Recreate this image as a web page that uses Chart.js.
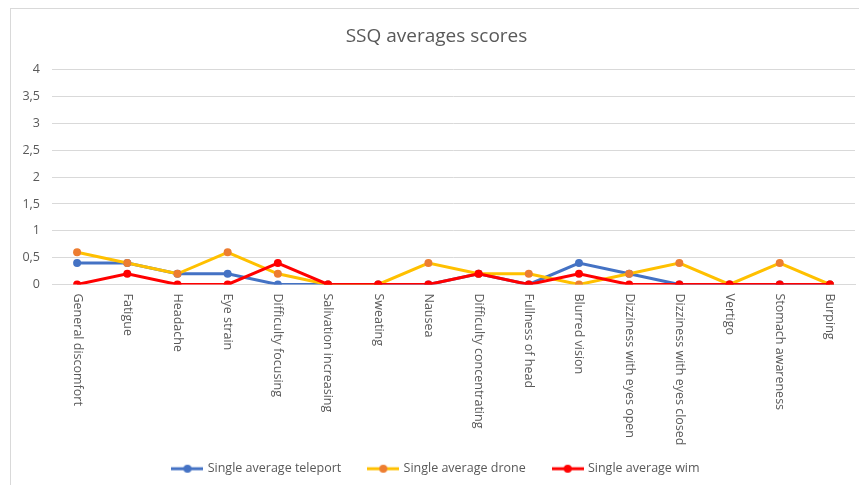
<!DOCTYPE html>
<html>
<head>
<meta charset="utf-8">
<script src="https://cdn.jsdelivr.net/npm/chart.js@4/dist/chart.umd.min.js"></script>
<style>
  html, body { margin: 0; padding: 0; background: #fff; }
  #wrap { width: 859px; height: 485px; }
</style>
</head>
<body>
<div id="wrap"><canvas id="chart"></canvas></div>
<script>
const categories = [
  'General discomfort', 'Fatigue', 'Headache', 'Eye strain', 'Difficulty focusing',
  'Salivation increasing', 'Sweating', 'Nausea', 'Difficulty concentrating',
  'Fullness of head', 'Blurred vision', 'Dizziness with eyes open',
  'Dizziness with eyes closed', 'Vertigo', 'Stomach awareness', 'Burping'
]
const teleport = [0.4, 0.4, 0.2, 0.2, 0, 0, 0, 0, 0.2, 0, 0.4, 0.2, 0, 0, 0, 0]
const drone = [0.6, 0.4, 0.2, 0.6, 0.2, 0, 0, 0.4, 0.2, 0.2, 0, 0.2, 0.4, 0, 0.4, 0]
const wim = [0, 0.2, 0, 0, 0.4, 0, 0, 0, 0.2, 0, 0.2, 0, 0, 0, 0, 0]
const yTicks = ['0', '0,5', '1', '1,5', '2', '2,5', '3', '3,5', '4']

const FONT = '"Open Sans", sans-serif'
const TEXT = '#595959'
const GRID = '#D9D9D9'

function legendIcon(line, dot) {
  const c = document.createElement('canvas')
  c.width = 32
  c.height = 10
  const g = c.getContext('2d')
  g.strokeStyle = line
  g.lineWidth = 3
  g.beginPath()
  g.moveTo(0, 5)
  g.lineTo(32, 5)
  g.stroke()
  g.fillStyle = dot
  g.beginPath()
  g.arc(16, 5, 4, 0, Math.PI * 2)
  g.fill()
  return c
}

function series(label, data, line, dot, order) {
  return {
    label, data, order,
    borderColor: line,
    backgroundColor: dot,
    pointBackgroundColor: dot,
    pointBorderWidth: 0,
    pointRadius: 4,
    borderWidth: 3,
    tension: 0
  }
}

// frame + rotated category labels (top to bottom, like Excel)
const frame = {
  id: 'frame',
  beforeDraw(chart) {
    const ctx = chart.ctx
    ctx.save()
    ctx.fillStyle = '#fff'
    ctx.fillRect(0, 0, chart.width, chart.height)
    ctx.strokeStyle = GRID
    ctx.lineWidth = 1
    ctx.strokeRect(10.5, 8.5, 1000, 1000)
    ctx.restore()
  },
  afterDraw(chart) {
    const ctx = chart.ctx
    const xs = chart.scales.x
    ctx.save()
    ctx.font = '12.5px ' + FONT
    ctx.fillStyle = TEXT
    ctx.textAlign = 'left'
    ctx.textBaseline = 'middle'
    categories.forEach((name, i) => {
      ctx.save()
      ctx.translate(xs.getPixelForTick(i), chart.chartArea.bottom + 9)
      ctx.rotate(Math.PI / 2)
      ctx.fillText(name, 0, 0)
      ctx.restore()
    })
    ctx.restore()
  }
}

new Chart(document.getElementById('chart'), {
  type: 'line',
  data: {
    labels: categories,
    datasets: [
      series('Single average teleport', teleport, '#4472C4', '#4472C4', 3),
      series('Single average drone', drone, '#FFC000', '#ED7D31', 2),
      series('Single average wim', wim, '#FF0000', '#FF0000', 1)
    ]
  },
  plugins: [frame],
  options: {
    responsive: true,
    maintainAspectRatio: false,
    animation: false,
    layout: { padding: { left: 18, right: 4, top: 0, bottom: 0 } },
    plugins: {
      title: {
        display: true,
        text: 'SSQ averages scores',
        color: TEXT,
        font: { family: FONT, size: 19, weight: 'normal' },
        padding: { top: 25, bottom: 22 }
      },
      legend: {
        position: 'bottom',
        labels: {
          usePointStyle: true,
          pointStyleWidth: 28,
          padding: 28,
          color: TEXT,
          font: { family: FONT, size: 12.5 },
          generateLabels(chart) {
            return chart.data.datasets.map((ds, i) => ({
              text: ds.label,
              pointStyle: legendIcon(ds.borderColor, ds.pointBackgroundColor),
              fillStyle: ds.borderColor,
              strokeStyle: ds.borderColor,
              lineWidth: 0,
              fontColor: TEXT,
              hidden: false,
              datasetIndex: i
            }))
          }
        }
      },
      tooltip: { enabled: false }
    },
    scales: {
      x: {
        offset: true,
        grid: { display: false },
        border: { color: GRID },
        ticks: { display: false },
        afterFit(s) { s.height = 150 }
      },
      y: {
        min: 0,
        max: 4,
        grid: { color: GRID, drawTicks: false },
        border: { display: false },
        afterFit(s) { s.width = 34 },
        ticks: {
          stepSize: 0.5,
          padding: 12,
          color: TEXT,
          font: { family: FONT, size: 12.5 },
          callback: (v, i) => yTicks[i]
        }
      }
    }
  }
})
</script>
</body>
</html>
